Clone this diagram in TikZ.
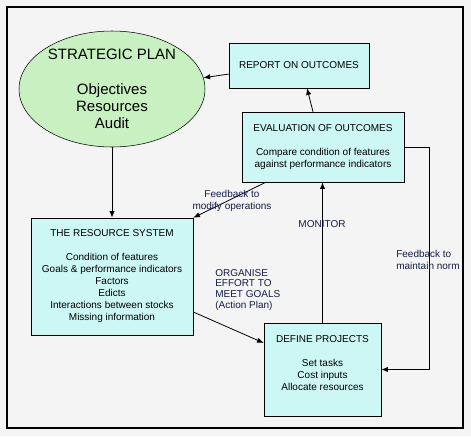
\documentclass[tikz,border=0pt]{standalone}
\usepackage{fontspec}
\setmainfont{Liberation Sans}
\usetikzlibrary{shapes.geometric,arrows.meta}
\definecolor{boxfill}{RGB}{204,247,245}
\definecolor{planfill}{RGB}{200,240,192}
\definecolor{pagebg}{RGB}{244,244,244}
\definecolor{notetext}{RGB}{20,28,70}
\begin{document}
\begin{tikzpicture}[x=0.75pt,y=-0.75pt,
  box/.style={draw,fill=boxfill,align=center,inner sep=0pt,font=\fontsize{7.5}{9}\selectfont},
  note/.style={text=notetext,inner sep=0pt,font=\fontsize{7.5}{9}\selectfont},
  flow/.style={-{Latex[length=5pt,width=4pt]},line width=0.6pt}]
\useasboundingbox (0,0) rectangle (471,436);
\fill[pagebg] (0,0) rectangle (471,436);
\draw[line width=0.8pt] (7,7) rectangle (463,428);
% the plan and the boxes
\node[ellipse,draw,fill=planfill,minimum width=139.5pt,minimum height=87pt,inner sep=0pt,align=center,font=\fontsize{11.25}{13}\selectfont] (plan) at (112,89) {STRATEGIC PLAN\\[13pt]Objectives\\Resources\\Audit};
\node[box,minimum width=105pt,minimum height=33.75pt] (report) at (299,65.5) {REPORT ON OUTCOMES};
\node[box,minimum width=121.5pt,minimum height=52.5pt] (eval) at (323,147) {EVALUATION OF OUTCOMES\\[9pt]Compare condition of features\\against performance indicators};
\node[box,minimum width=121.5pt,minimum height=87.75pt] (res) at (112,276.5) {THE RESOURCE SYSTEM\\[9pt]Condition of features\\Goals \& performance indicators\\Factors\\Edicts\\Interactions between stocks\\Missing information};
\node[box,minimum width=87.75pt,minimum height=69.75pt,text depth=10pt] (define) at (322.5,369.5) {DEFINE PROJECTS\\[9pt]Set tasks\\Cost inputs\\Allocate resources};
% connectors
\draw[flow] ([xshift=-7.5pt]eval.north) -- ([xshift=6pt]report.south);
\draw[flow] ([yshift=-6.4pt]report.west) -- (plan.7);
\draw[flow] (plan.south) -- (res.north);
\draw[flow] ([xshift=18pt]eval.south west) -- (res.north east);
\draw[flow] ([yshift=-26.6pt]res.east) -- ([yshift=19.9pt]define.west);
\draw[flow] (define.north) -- (define.north |- eval.south);
\draw[flow] (eval.east) -- ++(19pt,0) |- (define.east);
% labels
\node[note,align=center] (modify) at (232,201) {Feedback to\\modify operations};
\node[note,align=left,anchor=north west,font=\fontsize{7.5}{8}\selectfont] (organise) at (215,269) {ORGANISE\\EFFORT TO\\MEET GOALS\\(Action Plan)};
\node[note] (monitor) at (322,224) {MONITOR};
\node[note,align=left,anchor=west] (norm) at (396,259.5) {Feedback to\\maintain norm};
\end{tikzpicture}
\end{document}
